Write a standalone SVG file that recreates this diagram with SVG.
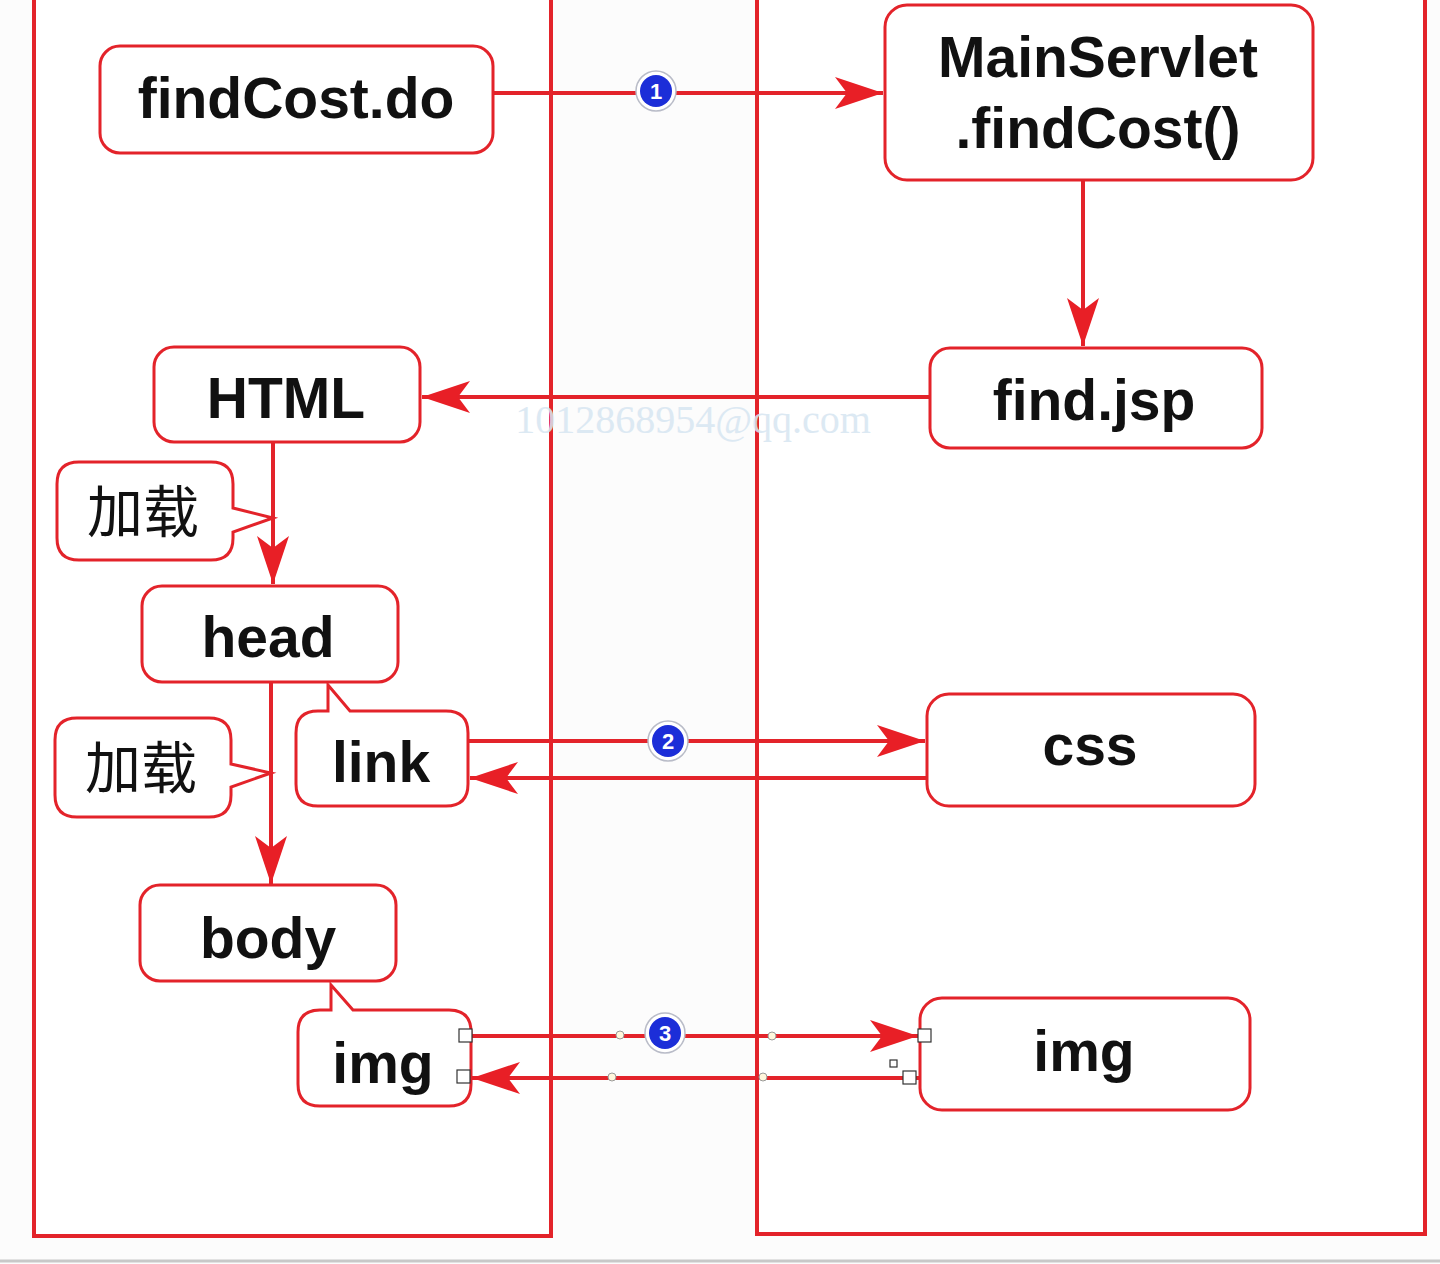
<svg xmlns="http://www.w3.org/2000/svg" width="1440" height="1264" viewBox="0 0 1440 1264">
<style>
.lane{fill:#ffffff;stroke:#e3232a;stroke-width:4}
.box{fill:#ffffff;stroke:#e3232a;stroke-width:3}
.lbl{font-family:"Liberation Sans",Arial,sans-serif;font-weight:bold;font-size:57px;fill:#111;text-anchor:middle}
.cjk{font-family:"Liberation Sans","Noto Sans CJK SC",sans-serif;font-size:56px;fill:#111;text-anchor:middle}
.wire{fill:none;stroke:#e3232a;stroke-width:4}
.badge-ring{fill:#ffffff;stroke:#b9bcc8;stroke-width:1.5}
.badge{fill:#1c2ed8}
.bnum{font-family:"Liberation Sans",Arial,sans-serif;font-weight:bold;font-size:22px;fill:#fff;text-anchor:middle}
.handle{fill:#fff;stroke:#333;stroke-width:1.2}
.dot{fill:#fff7dc;stroke:#999;stroke-width:1}
</style>
<defs>
<marker id="ah" viewBox="-50 -18 52 36" refX="0" refY="0" markerWidth="52" markerHeight="36" markerUnits="userSpaceOnUse" orient="auto">
<path d="M0,0 L-48,-16 L-36,0 L-48,16 Z" fill="#e81f26"/>
</marker>
</defs>
<rect x="0" y="0" width="1440" height="1264" fill="#fcfcfc"/>
<g id="lanes">
<rect class="lane" x="34" y="-10" width="517" height="1246"/>
<rect class="lane" x="757" y="-10" width="668" height="1244"/>
<line x1="0" y1="1261" x2="1440" y2="1261" stroke="#c8c8c8" stroke-width="3"/>
</g>
<g id="connectors">
<line class="wire" x1="493" y1="93" x2="883" y2="93" marker-end="url(#ah)"/>
<line class="wire" x1="1083" y1="180" x2="1083" y2="346" marker-end="url(#ah)"/>
<line class="wire" x1="930" y1="397" x2="422" y2="397" marker-end="url(#ah)"/>
<line class="wire" x1="273" y1="442" x2="273" y2="584" marker-end="url(#ah)"/>
<line class="wire" x1="271" y1="682" x2="271" y2="884" marker-end="url(#ah)"/>
<line class="wire" x1="468" y1="741" x2="925" y2="741" marker-end="url(#ah)"/>
<line class="wire" x1="927" y1="778" x2="470" y2="778" marker-end="url(#ah)"/>
<line class="wire" x1="470" y1="1036" x2="918" y2="1036" marker-end="url(#ah)"/>
<line class="wire" x1="920" y1="1078" x2="472" y2="1078" marker-end="url(#ah)"/>
</g>
<g id="node-findCostDo">
<rect class="box" x="100" y="46" width="393" height="107" rx="20"/>
<text class="lbl" x="296" y="118">findCost.do</text>
</g>
<g id="node-MainServlet">
<rect class="box" x="885" y="5" width="428" height="175" rx="22"/>
<text class="lbl" x="1098" y="77">MainServlet</text>
<text class="lbl" x="1098" y="148">.findCost()</text>
</g>
<g id="node-findJsp">
<rect class="box" x="930" y="348" width="332" height="100" rx="20"/>
<text class="lbl" x="1094" y="420">find.jsp</text>
</g>
<g id="node-HTML">
<rect class="box" x="154" y="347" width="266" height="95" rx="20"/>
<text class="lbl" x="286" y="418">HTML</text>
</g>
<g id="node-load1">
<path class="box" d="M79,462 H211 Q233,462 233,484 V508 L273,518 L233,532 V538 Q233,560 211,560 H79 Q57,560 57,538 V484 Q57,462 79,462 Z"/>
<text class="cjk" x="143" y="532">加载</text>
</g>
<g id="node-head">
<rect class="box" x="142" y="586" width="256" height="96" rx="20"/>
<text class="lbl" x="268" y="657">head</text>
</g>
<g id="node-link">
<path class="box" d="M328,685 L350,711 H446 Q468,711 468,733 V784 Q468,806 446,806 H318 Q296,806 296,784 V733 Q296,711 318,711 H328 Z"/>
<text class="lbl" x="381" y="782">link</text>
</g>
<g id="node-load2">
<path class="box" d="M77,718 H209 Q231,718 231,740 V764 L271,773 L231,787 V795 Q231,817 209,817 H77 Q55,817 55,795 V740 Q55,718 77,718 Z"/>
<text class="cjk" x="141" y="788">加载</text>
</g>
<g id="node-body">
<rect class="box" x="140" y="885" width="256" height="96" rx="20"/>
<text class="lbl" x="268" y="958">body</text>
</g>
<g id="node-imgLeft">
<path class="box" d="M331,985 L353,1010 H449 Q471,1010 471,1032 V1084 Q471,1106 449,1106 H320 Q298,1106 298,1084 V1032 Q298,1010 320,1010 H331 Z"/>
<text class="lbl" x="383" y="1083">img</text>
</g>
<g id="node-css">
<rect class="box" x="927" y="694" width="328" height="112" rx="22"/>
<text class="lbl" x="1090" y="765">css</text>
</g>
<g id="node-imgRight">
<rect class="box" x="920" y="998" width="330" height="112" rx="22"/>
<text class="lbl" x="1084" y="1071">img</text>
</g>
<g id="badges">
<circle class="badge-ring" cx="656" cy="91" r="20"/>
<circle class="badge" cx="656" cy="91" r="16"/>
<text class="bnum" x="656" y="99">1</text>
<circle class="badge-ring" cx="668" cy="741" r="20"/>
<circle class="badge" cx="668" cy="741" r="16"/>
<text class="bnum" x="668" y="749">2</text>
<circle class="badge-ring" cx="665" cy="1033" r="20"/>
<circle class="badge" cx="665" cy="1033" r="16"/>
<text class="bnum" x="665" y="1041">3</text>
</g>
<g id="handles">
<rect class="handle" x="459" y="1029" width="13" height="13"/>
<rect class="handle" x="457" y="1070" width="13" height="13"/>
<rect class="handle" x="918" y="1029" width="13" height="13"/>
<rect class="handle" x="903" y="1071" width="13" height="13"/>
<rect class="handle" x="890" y="1060" width="7" height="7"/>
<circle class="dot" cx="620" cy="1035" r="4"/>
<circle class="dot" cx="772" cy="1036" r="4"/>
<circle class="dot" cx="612" cy="1077" r="4"/>
<circle class="dot" cx="763" cy="1077" r="4"/>
</g>
<text x="693" y="433" font-family="'Liberation Serif',serif" font-size="40" fill="#d7e6f2" text-anchor="middle" opacity="0.85">1012868954@qq.com</text>
</svg>
